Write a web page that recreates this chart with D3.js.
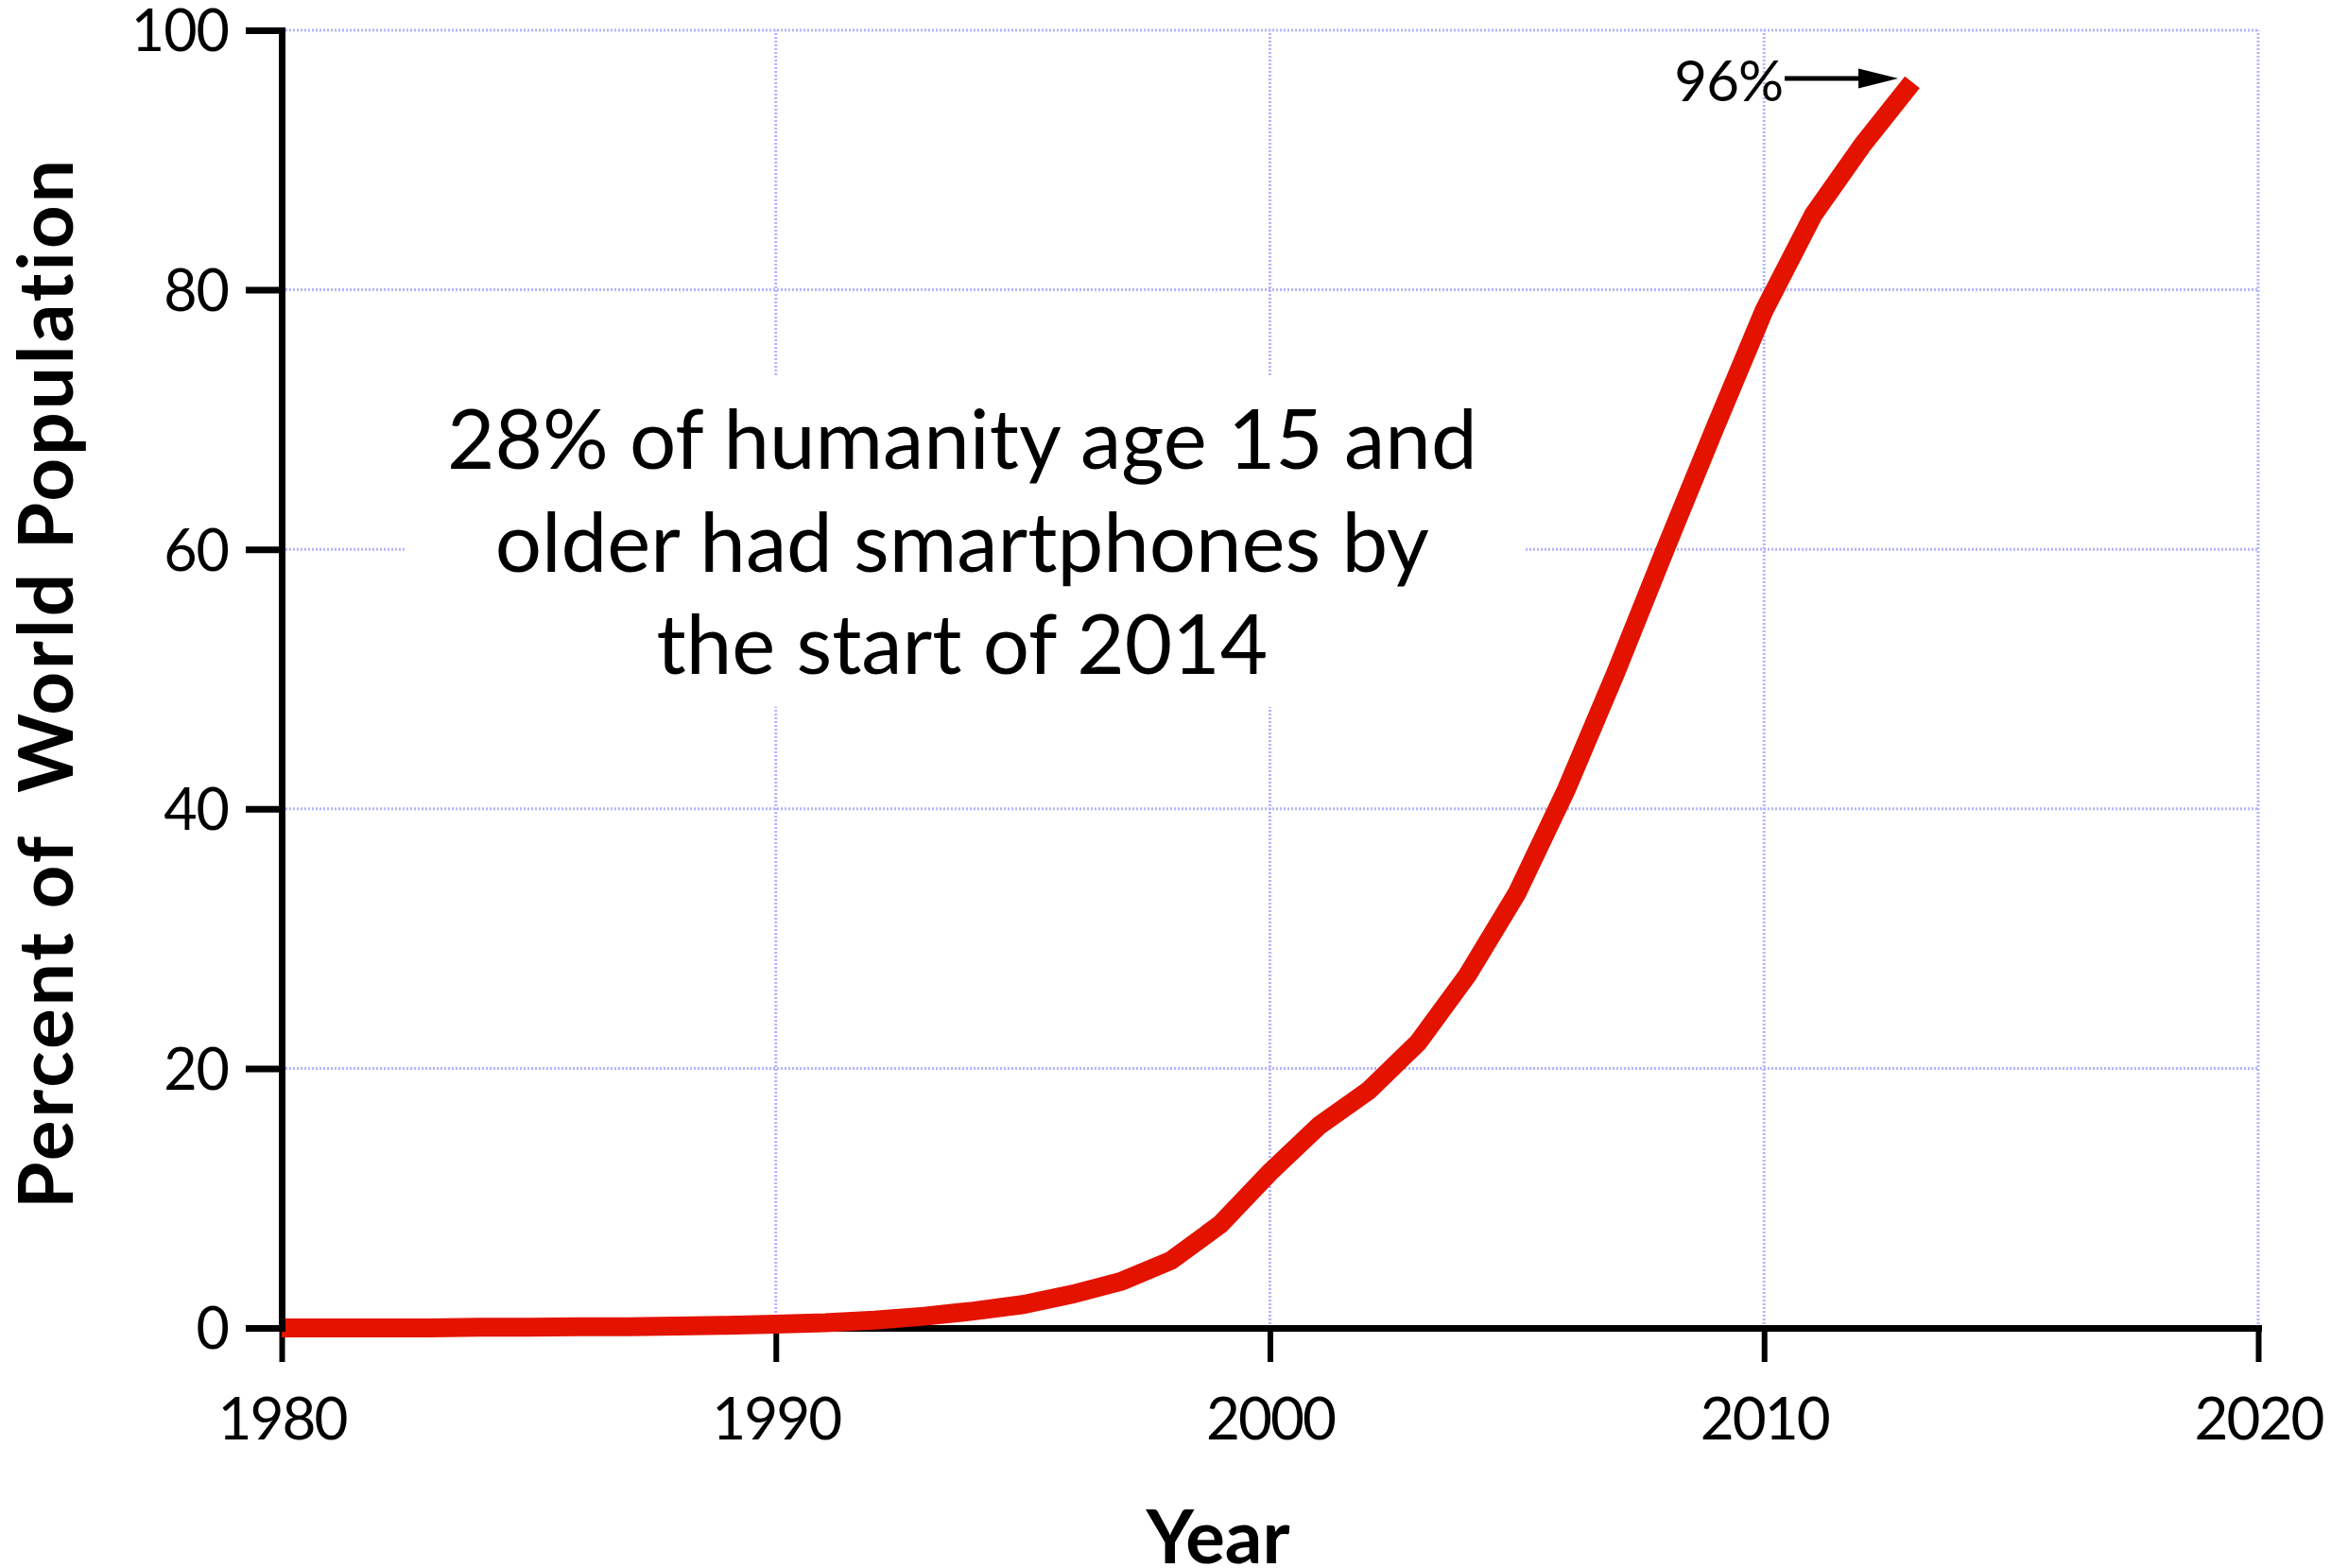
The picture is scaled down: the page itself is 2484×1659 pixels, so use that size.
<!DOCTYPE html>
<html>
<head>
<meta charset="utf-8">
<script src="https://cdn.jsdelivr.net/npm/d3@7"></script>
<style>
  html, body { margin: 0; padding: 0; background: #fff; }
  svg { display: block; }
  text { font-family: Lato, "Open Sans", "Noto Sans", sans-serif; fill: #000; }
</style>
</head>
<body>
<svg id="chart" width="2484" height="1659"></svg>
<script>
// ---- data ----
const years = [1980,1981,1982,1983,1984,1985,1986,1987,1988,1989,
               1990,1991,1992,1993,1994,1995,1996,1997,1998,1999,
               2000,2001,2002,2003,2004,2005,2006,2007,2008,2009,
               2010,2011,2012,2013];
const percent = [0,0,0,0,0.05,0.05,0.1,0.1,0.15,0.2,
                 0.3,0.4,0.6,0.9,1.3,1.8,2.6,3.6,5.2,8.0,
                 12.0,15.6,18.3,22.0,27.2,33.5,41.5,50.5,60.0,69.3,
                 78.4,85.8,91.2,96.0];
const xTicks = [1980,1990,2000,2010,2020];
const yTicks = [0,20,40,60,80,100];
const annotationLines = ["28% of humanity age 15 and",
                         "older had smartphones by",
                         "the start of 2014"];
const endLabel = "96%";
const xTitle = "Year";
const yTitle = "Percent of  World Population";

// ---- layout ----
const svg = d3.select("#chart");
const x = d3.scaleLinear().domain([1980, 2020]).range([298, 2389]);
const y = d3.scaleLinear().domain([0, 100]).range([1405, 32]);

const gridColor = "#b4b4ff";

// grid
const grid = svg.append("g");
grid.selectAll("line.h").data(yTicks.filter(d => d > 0)).join("line")
  .attr("x1", x(1980)).attr("x2", x(2020))
  .attr("y1", d => y(d)).attr("y2", d => y(d))
  .attr("stroke", gridColor).attr("stroke-width", 3).attr("stroke-dasharray", "2,2");
grid.selectAll("line.v").data(xTicks.filter(d => d > 1980)).join("line")
  .attr("x1", d => x(d)).attr("x2", d => x(d))
  .attr("y1", y(0)).attr("y2", y(100))
  .attr("stroke", gridColor).attr("stroke-width", 3).attr("stroke-dasharray", "2,2");

// white box behind the annotation
svg.append("rect")
  .attr("x", x(1982.52)).attr("y", y(73.4))
  .attr("width", x(2005.16) - x(1982.52)).attr("height", y(47.85) - y(73.4))
  .attr("fill", "#fff");

// annotation text
const ann = svg.append("text")
  .attr("text-anchor", "middle")
  .attr("font-size", 87);
ann.selectAll("tspan").data(annotationLines).join("tspan")
  .attr("x", x(1993.77))
  .attr("y", (d, i) => 496 + i * 108.5)
  .text(d => d);

// x axis
const xAxis = svg.append("g")
  .attr("transform", `translate(0,${y(0)})`)
  .call(d3.axisBottom(x).tickValues(xTicks).tickFormat(d3.format("d")).tickSize(36).tickSizeOuter(0));
xAxis.select(".domain").attr("stroke", "#000").attr("stroke-width", 7).attr("stroke-linecap", "square");
xAxis.selectAll(".tick line").attr("stroke", "#000").attr("stroke-width", 6);
xAxis.selectAll(".tick text")
  .attr("y", 118).attr("dy", 0)
  .attr("font-size", 62).attr("letter-spacing", -2)
  .attr("font-family", "Lato, sans-serif").attr("fill", "#000");

// data line
const line = d3.line().x((d, i) => x(years[i])).y(d => y(d)).curve(d3.curveLinear);
svg.append("path")
  .datum(percent)
  .attr("d", line)
  .attr("fill", "none")
  .attr("stroke", "#e31300")
  .attr("stroke-width", 20)
  .attr("stroke-linejoin", "miter")
  .attr("stroke-linecap", "butt");

// y axis
const yAxis = svg.append("g")
  .attr("transform", `translate(${x(1980)},0)`)
  .call(d3.axisLeft(y).tickValues(yTicks).tickFormat(d3.format("d")).tickSize(38).tickSizeOuter(0));
yAxis.select(".domain").attr("stroke", "#000").attr("stroke-width", 7).attr("stroke-linecap", "square");
yAxis.selectAll(".tick line").attr("stroke", "#000").attr("stroke-width", 7);
yAxis.selectAll(".tick text")
  .attr("x", -56).attr("dy", "0.36em")
  .attr("font-size", 61).attr("letter-spacing", -1)
  .attr("font-family", "Lato, sans-serif").attr("fill", "#000");

// end label with arrow
const lastYear = years[years.length - 1];
const lastVal = percent[percent.length - 1];
const tipX = x(lastYear) - 15, tipY = y(lastVal) - 4;
svg.append("line")
  .attr("x1", tipX - 120).attr("x2", tipX - 38)
  .attr("y1", tipY).attr("y2", tipY)
  .attr("stroke", "#000").attr("stroke-width", 5);
svg.append("path")
  .attr("d", `M${tipX},${tipY}L${tipX - 42},${tipY - 10.5}L${tipX - 42},${tipY + 10.5}Z`)
  .attr("fill", "#000");
svg.append("text")
  .attr("x", tipX - 122).attr("y", tipY + 24)
  .attr("text-anchor", "end")
  .attr("font-size", 60).attr("letter-spacing", -1)
  .text(endLabel);

// axis titles
svg.append("text")
  .attr("x", (x(1980) + x(2020)) / 2 - 55).attr("y", 1654)
  .attr("text-anchor", "middle")
  .attr("font-size", 78).attr("font-weight", "bold")
  .text(xTitle);
svg.append("text")
  .attr("transform", `translate(77,${(y(0) + y(100)) / 2 + 4}) rotate(-90)`)
  .attr("text-anchor", "middle")
  .attr("font-size", 80).attr("font-weight", "bold")
  .attr("letter-spacing", 3)
  .style("white-space", "pre")
  .text(yTitle);
</script>
</body>
</html>
